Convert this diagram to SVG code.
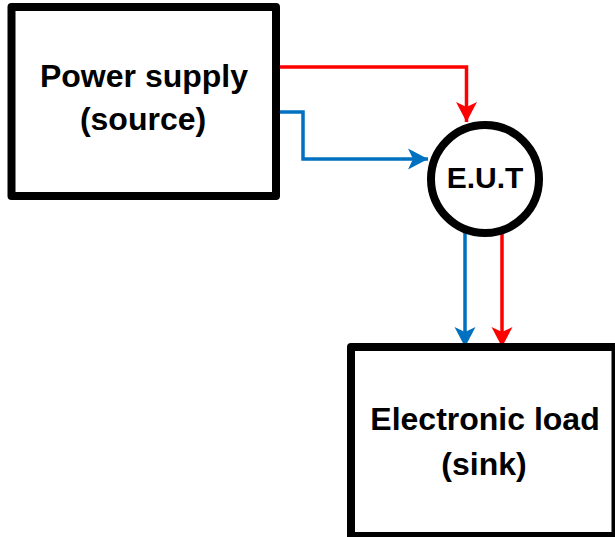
<svg xmlns="http://www.w3.org/2000/svg" width="615" height="537" viewBox="0 0 615 537">
<style>
.box{fill:#fff;stroke:#000;stroke-width:8;stroke-linejoin:round}
.lbl{font-family:"Liberation Sans",Arial,sans-serif;font-weight:bold;font-size:32px;fill:#000;text-anchor:middle}
.red{fill:none;stroke:#FF0000;stroke-width:3.5}
.blue{fill:none;stroke:#0070C0;stroke-width:3.5}
</style>
<defs>
<marker id="ar" markerUnits="userSpaceOnUse" markerWidth="20" markerHeight="22" refX="20" refY="10.5" orient="auto" viewBox="0 0 20 21">
<path d="M0,0 L20,10.5 L0,21 L5,10.5 Z" fill="#FF0000"/>
</marker>
<marker id="ab" markerUnits="userSpaceOnUse" markerWidth="20" markerHeight="22" refX="20" refY="10.5" orient="auto" viewBox="0 0 20 21">
<path d="M0,0 L20,10.5 L0,21 L5,10.5 Z" fill="#0070C0"/>
</marker>
</defs>
<g id="connectors">
<path class="red" d="M276,67 H466.5 V122" marker-end="url(#ar)"/>
<path class="blue" d="M276,112 H303 V159 H428" marker-end="url(#ab)"/>
<path class="blue" d="M465,231 V347" marker-end="url(#ab)"/>
<path class="red" d="M502,231 V347" marker-end="url(#ar)"/>
</g>
<g id="source">
<rect class="box" x="11.5" y="7" width="264.5" height="189"/>
<text class="lbl" x="144" y="87">Power supply</text>
<text class="lbl" x="143" y="130">(source)</text>
</g>
<g id="eut">
<circle cx="485" cy="179" r="54" fill="#fff" stroke="#000" stroke-width="8"/>
<text class="lbl" x="485" y="188" style="font-size:30px">E.U.T</text>
</g>
<g id="sink">
<rect class="box" x="351" y="347" width="264.5" height="189"/>
<text class="lbl" x="485" y="430">Electronic load</text>
<text class="lbl" x="484" y="475">(sink)</text>
</g>
</svg>
